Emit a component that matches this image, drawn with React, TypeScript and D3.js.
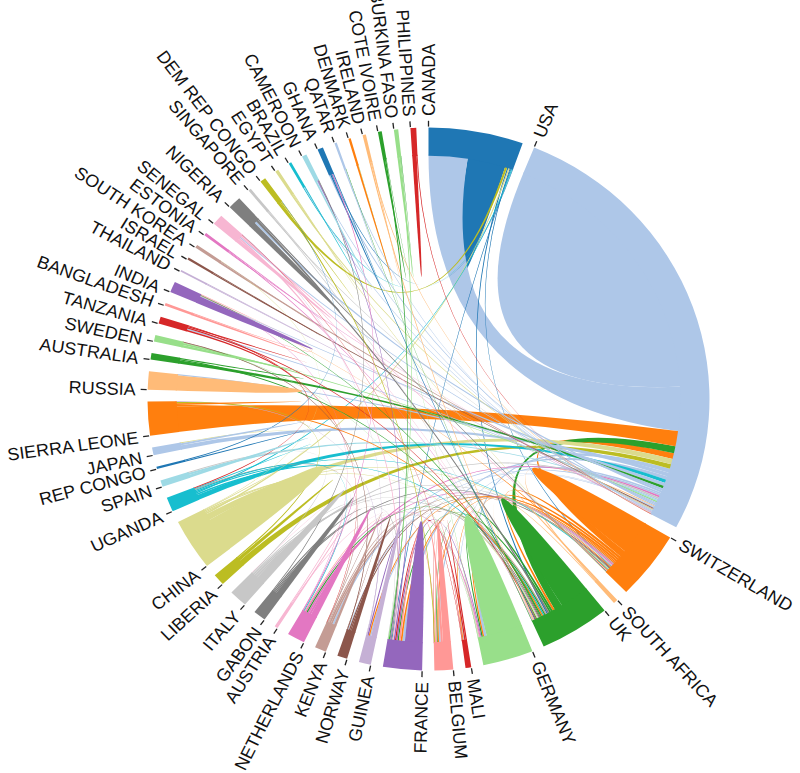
// react
import React, { useEffect, useRef } from 'react';
// d3
import * as d3 from 'd3';

const svgWidth = 800;
const svgHeight = 773;
// centre of the circle and the vertical squash of the picture
const cx = 428.5;
const cy = 399;
const squash = 0.966;
const outerR = 281;
const innerR = 253;
const padDeg = 2.5;

const countries = [
    'CANADA', 'USA', 'SWITZERLAND', 'SOUTH AFRICA', 'UK', 'GERMANY', 'MALI', 'BELGIUM',
    'FRANCE', 'GUINEA', 'NORWAY', 'KENYA', 'NETHERLANDS', 'AUSTRIA', 'GABON', 'ITALY',
    'LIBERIA', 'CHINA', 'UGANDA', 'SPAIN', 'REP CONGO', 'JAPAN', 'SIERRA LEONE', 'RUSSIA',
    'AUSTRALIA', 'SWEDEN', 'TANZANIA', 'BANGLADESH', 'INDIA', 'THAILAND', 'ISRAEL',
    'SOUTH KOREA', 'ESTONIA', 'SENEGAL', 'NIGERIA', 'SINGAPORE', 'DEM REP CONGO', 'EGYPT',
    'BRAZIL', 'CAMEROON', 'GHANA', 'QATAR', 'DENMARK', 'IRELAND', 'COTE IVOIRE',
    'BURKINA FASO', 'PHILIPPINES'
];

// ties of a country with itself
const selfLinks: [string, number][] = [
    ['CANADA', 8.8], ['USA', 65.4], ['SWITZERLAND', 8.1], ['SOUTH AFRICA', 0.4], ['UK', 6.9],
    ['GERMANY', 8.4], ['MALI', 0.3], ['BELGIUM', 1.8], ['FRANCE', 4.1], ['GUINEA', 1.3],
    ['NORWAY', 1.0], ['KENYA', 0.6], ['NETHERLANDS', 1.5], ['AUSTRIA', 0.3], ['GABON', 1.5],
    ['ITALY', 2.1], ['LIBERIA', 0.8], ['CHINA', 8.3], ['UGANDA', 0.2], ['SPAIN', 0.7],
    ['REP CONGO', 0.3], ['JAPAN', 0.5], ['SIERRA LEONE', 0.4], ['RUSSIA', 3.6], ['AUSTRALIA', 0.3],
    ['SWEDEN', 0.6], ['TANZANIA', 0.3], ['BANGLADESH', 0.4], ['INDIA', 1.7], ['THAILAND', 0.2],
    ['ISRAEL', 0.2], ['SOUTH KOREA', 0.2], ['ESTONIA', 0.2], ['SENEGAL', 0.9], ['NIGERIA', 1.4],
    ['SINGAPORE', 0.2], ['DEM REP CONGO', 0.2], ['EGYPT', 0.2], ['BRAZIL', 0.2], ['CAMEROON', 0.4],
    ['GHANA', 0.2], ['QATAR', 0.2], ['DENMARK', 0.4], ['IRELAND', 0.2], ['COTE IVOIRE', 0.4],
    ['BURKINA FASO', 0.5], ['PHILIPPINES', 1.0]
];

// [a, b, width at a, width at b]
const canadaLinks: [string, string, number, number][] = [
    ['CANADA', 'USA', 9.0, 10.6], ['CANADA', 'DEM REP CONGO', 0.5, 0.6], ['CANADA', 'CHINA', 0.3, 0.4],
    ['CANADA', 'UK', 0.3, 0.3], ['CANADA', 'FRANCE', 0.2, 0.2], ['CANADA', 'SWITZERLAND', 0.2, 0.2],
    ['CANADA', 'UGANDA', 0.2, 0.3], ['CANADA', 'BRAZIL', 0.1, 0.2], ['CANADA', 'GHANA', 0.1, 0.2]
];

const usaLinks: [string, string, number, number][] = [
    ['SIERRA LEONE', 'USA', 6.0, 3.6], ['UK', 'USA', 1.9, 1.7], ['SWITZERLAND', 'USA', 1.6, 1.4],
    ['CHINA', 'USA', 1.5, 1.3], ['LIBERIA', 'USA', 1.4, 1.1], ['GERMANY', 'USA', 0.6, 1.0],
    ['JAPAN', 'USA', 1.0, 0.9], ['UGANDA', 'USA', 1.2, 0.8], ['RUSSIA', 'USA', 0.3, 0.8],
    ['FRANCE', 'USA', 0.6, 0.8], ['AUSTRALIA', 'USA', 0.8, 0.6], ['INDIA', 'USA', 0.2, 0.6],
    ['NIGERIA', 'USA', 0.5, 0.5], ['BELGIUM', 'USA', 0.4, 0.4], ['KENYA', 'USA', 0.4, 0.4],
    ['NETHERLANDS', 'USA', 0.5, 0.4], ['ITALY', 'USA', 0.5, 0.4], ['SPAIN', 'USA', 0.5, 0.3],
    ['SWEDEN', 'USA', 0.4, 0.3], ['TANZANIA', 'USA', 0.3, 0.3], ['GHANA', 'USA', 0.3, 0.3],
    ['ISRAEL', 'USA', 0.3, 0.2], ['SOUTH KOREA', 'USA', 0.4, 0.2], ['BRAZIL', 'USA', 0.2, 0.2],
    ['EGYPT', 'USA', 0.3, 0.2], ['CAMEROON', 'USA', 0.2, 0.2], ['SENEGAL', 'USA', 0.3, 0.3],
    ['GUINEA', 'USA', 0.3, 0.3], ['NORWAY', 'USA', 0.2, 0.2], ['MALI', 'USA', 0.2, 0.2],
    ['SOUTH AFRICA', 'USA', 0.3, 0.2], ['THAILAND', 'USA', 0.2, 0.1], ['ESTONIA', 'USA', 0.2, 0.1],
    ['SINGAPORE', 'USA', 0.2, 0.1], ['QATAR', 'USA', 0.2, 0.1], ['IRELAND', 'USA', 0.2, 0.1],
    ['PHILIPPINES', 'USA', 0.2, 0.1]
];

const swissLinks: [string, string, number, number][] = [
    ['UK', 'SWITZERLAND', 0.5, 0.6], ['GERMANY', 'SWITZERLAND', 0.3, 0.5], ['FRANCE', 'SWITZERLAND', 0.4, 0.5],
    ['ITALY', 'SWITZERLAND', 0.4, 0.3], ['KENYA', 'SWITZERLAND', 0.4, 0.3], ['GUINEA', 'SWITZERLAND', 0.3, 0.3],
    ['NETHERLANDS', 'SWITZERLAND', 0.4, 0.3], ['BELGIUM', 'SWITZERLAND', 0.3, 0.3], ['NORWAY', 'SWITZERLAND', 0.3, 0.2],
    ['MALI', 'SWITZERLAND', 0.2, 0.2], ['SENEGAL', 'SWITZERLAND', 0.3, 0.2], ['NIGERIA', 'SWITZERLAND', 0.3, 0.2],
    ['INDIA', 'SWITZERLAND', 0.1, 0.2], ['CHINA', 'SWITZERLAND', 0.3, 0.2], ['UGANDA', 'SWITZERLAND', 0.3, 0.2],
    ['GABON', 'SWITZERLAND', 0.3, 0.2], ['EGYPT', 'SWITZERLAND', 0.2, 0.1]
];

const ukLinks: [string, string, number, number][] = [
    ['SOUTH AFRICA', 'UK', 0.2, 0.1], ['GERMANY', 'UK', 0.3, 0.5], ['FRANCE', 'UK', 0.3, 0.4],
    ['NIGERIA', 'UK', 0.5, 0.4], ['KENYA', 'UK', 0.4, 0.3], ['SIERRA LEONE', 'UK', 0.4, 0.3],
    ['INDIA', 'UK', 0.1, 0.3], ['NETHERLANDS', 'UK', 0.3, 0.3], ['GHANA', 'UK', 0.3, 0.2],
    ['ITALY', 'UK', 0.3, 0.2], ['UGANDA', 'UK', 0.4, 0.3], ['TANZANIA', 'UK', 0.3, 0.2],
    ['NORWAY', 'UK', 0.3, 0.2], ['SENEGAL', 'UK', 0.2, 0.1], ['CHINA', 'UK', 0.3, 0.2],
    ['GABON', 'UK', 0.3, 0.2], ['AUSTRALIA', 'UK', 0.3, 0.2], ['BELGIUM', 'UK', 0.2, 0.2],
    ['ESTONIA', 'UK', 0.2, 0.1], ['SINGAPORE', 'UK', 0.2, 0.1], ['QATAR', 'UK', 0.1, 0.1],
    ['IRELAND', 'UK', 0.3, 0.2]
];

const germanyLinks: [string, string, number, number][] = [
    ['FRANCE', 'GERMANY', 0.3, 0.2], ['NETHERLANDS', 'GERMANY', 0.3, 0.2], ['BELGIUM', 'GERMANY', 0.2, 0.1],
    ['KENYA', 'GERMANY', 0.2, 0.1], ['AUSTRIA', 'GERMANY', 0.2, 0.1], ['SWEDEN', 'GERMANY', 0.2, 0.1],
    ['DENMARK', 'GERMANY', 0.1, 0.1]
];

const otherLinks: [string, string, number, number][] = [
    ['MALI', 'FRANCE', 0.3, 0.3], ['MALI', 'BELGIUM', 0.1, 0.1], ['MALI', 'SENEGAL', 0.1, 0.1],
    ['BELGIUM', 'FRANCE', 0.5, 0.4], ['BELGIUM', 'DEM REP CONGO', 0.2, 0.3], ['BELGIUM', 'NETHERLANDS', 0.2, 0.2],
    ['FRANCE', 'GUINEA', 0.3, 0.3], ['FRANCE', 'SENEGAL', 0.3, 0.4], ['FRANCE', 'COTE IVOIRE', 0.2, 0.3],
    ['FRANCE', 'BURKINA FASO', 0.2, 0.3], ['FRANCE', 'CAMEROON', 0.2, 0.2], ['FRANCE', 'GABON', 0.2, 0.3],
    ['FRANCE', 'ITALY', 0.1, 0.2], ['GUINEA', 'SIERRA LEONE', 0.2, 0.2], ['GUINEA', 'SENEGAL', 0.1, 0.1],
    ['NORWAY', 'SWEDEN', 0.2, 0.2], ['NORWAY', 'KENYA', 0.1, 0.1], ['KENYA', 'UGANDA', 0.2, 0.2],
    ['KENYA', 'TANZANIA', 0.1, 0.2], ['NETHERLANDS', 'GHANA', 0.2, 0.2], ['NETHERLANDS', 'UGANDA', 0.2, 0.3],
    ['NETHERLANDS', 'INDIA', 0.1, 0.1], ['AUSTRIA', 'ITALY', 0.2, 0.1], ['GABON', 'CAMEROON', 0.2, 0.2],
    ['ITALY', 'SPAIN', 0.2, 0.2], ['LIBERIA', 'SIERRA LEONE', 0.3, 0.3], ['CHINA', 'JAPAN', 0.2, 0.2],
    ['CHINA', 'SOUTH KOREA', 0.1, 0.1], ['UGANDA', 'TANZANIA', 0.2, 0.4], ['REP CONGO', 'DEM REP CONGO', 0.2, 0.1],
    ['BANGLADESH', 'INDIA', 0.2, 0.1], ['COTE IVOIRE', 'BURKINA FASO', 0.1, 0.1]
];

const palette = [
    '#1f77b4', '#aec7e8', '#ff7f0e', '#ffbb78', '#2ca02c', '#98df8a', '#d62728', '#ff9896',
    '#9467bd', '#c5b0d5', '#8c564b', '#c49c94', '#e377c2', '#f7b6d2', '#7f7f7f', '#c7c7c7',
    '#bcbd22', '#dbdb8d', '#17becf', '#9edae5'
];

const color = (i: number) => palette[i % palette.length];

const App = () => {
    const myRef = useRef<SVGSVGElement>(null);

    useEffect(() => {
        const svg = d3.select(myRef.current);
        svg.selectAll('*').remove();

        const n = countries.length;
        const index = new Map(countries.map((c, i) => [c, i]));
        const matrix = countries.map(() => new Array(n).fill(0));
        selfLinks.forEach(([c, v]) => {
            const i = index.get(c) as number;
            matrix[i][i] = v;
        });
        [canadaLinks, usaLinks, swissLinks, ukLinks, germanyLinks, otherLinks].forEach(list => {
            list.forEach(([a, b, wa, wb]) => {
                const i = index.get(a) as number;
                const j = index.get(b) as number;
                matrix[i][j] = wa;
                matrix[j][i] = wb;
            });
        });

        const chords = d3.chord()
            .padAngle(padDeg * Math.PI / 180)
            .sortSubgroups(d3.descending)(matrix);

        const chart = svg.append('g')
            .attr('transform', `translate(${cx},${cy}) scale(1,${squash})`);

        const ribbon = d3.ribbon().radius(innerR);
        chart.append('g')
            .selectAll('path')
            .data(chords.filter((d: any) => d.source && d.target))
            .join('path')
            .attr('d', ribbon as any)
            .attr('fill', (d: any) => color(d.source.index));

        // ring slightly overlaps the ribbon ends so no seam shows
        const arc = d3.arc().innerRadius(innerR - 1.2).outerRadius(outerR);
        const group = chart.append('g')
            .selectAll('g')
            .data(chords.groups)
            .join('g');

        group.append('path')
            .attr('d', arc as any)
            .attr('fill', (d: any) => color(d.index));

        const label = group.append('g')
            .attr('transform', (d: any) => `rotate(${d.startAngle * 180 / Math.PI - 90})`);

        label.append('line')
            .attr('x1', outerR + 1)
            .attr('x2', outerR + 7)
            .attr('stroke', '#222')
            .attr('stroke-width', 1.3);

        label.append('text')
            .attr('transform', (d: any) => d.startAngle > Math.PI
                ? `translate(${outerR + 12},0) rotate(180)`
                : `translate(${outerR + 12},0)`)
            .attr('text-anchor', (d: any) => d.startAngle > Math.PI ? 'end' : 'start')
            .attr('dy', '0.35em')
            .attr('font-family', '"Liberation Sans", Arial, sans-serif')
            .attr('font-size', 18)
            .attr('fill', '#111')
            .text((d: any) => countries[d.index]);
    }, []);

    return (
        <svg
            ref={myRef}
            width={svgWidth}
            height={svgHeight}
            style={{ position: 'absolute', left: 0, top: 0, background: '#fff' }}
        />
    );
};

export default App;
